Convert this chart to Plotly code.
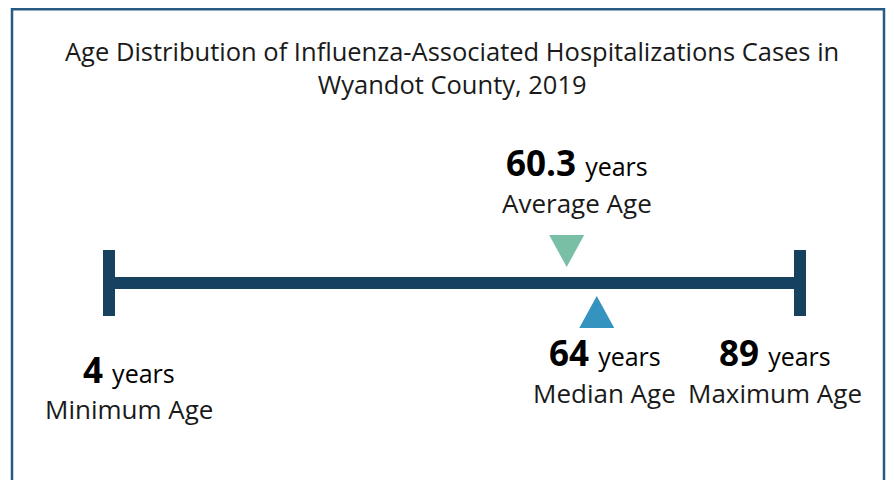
import plotly.graph_objects as go

# ---- data ----
title_text = "Age Distribution of Influenza-Associated Hospitalizations Cases in<br>Wyandot County, 2019"
stat_names = ["Minimum Age", "Average Age", "Median Age", "Maximum Age"]
stat_values = [4, 60.3, 64, 89]
unit = "years"

min_age, avg_age, med_age, max_age = stat_values

# ---- styles ----
PAGE_W, PAGE_H = 894, 480
OFF = 8  # page body margin: figure is drawn at (8, 8) in the page
W, H = PAGE_W - OFF, PAGE_H - OFF
FONT = "Open Sans"
NAVY = "#17425f"
GREEN = "#78bfa6"
BLUE = "#3494bf"
BORDER = "#285a82"
TXT = "#1a1a1a"

LINE_Y = 283
CAP_HALF = 33
TRI_HALF_W_PX = 17.5

# axis range so that min maps to ~109px and max to ~800px (page pixels)
px_per_unit = (800 - 109) / (max_age - min_age)
x0 = min_age - (109 - OFF) / px_per_unit
x1 = x0 + W / px_per_unit
tri_dx = TRI_HALF_W_PX / px_per_unit

fig = go.Figure()

# main line
fig.add_trace(go.Scatter(x=[min_age, max_age], y=[LINE_Y, LINE_Y], mode="lines",
                         line=dict(color=NAVY, width=12), hoverinfo="skip"))
# end caps
for v in (min_age, max_age):
    fig.add_trace(go.Scatter(x=[v, v], y=[LINE_Y - CAP_HALF, LINE_Y + CAP_HALF], mode="lines",
                             line=dict(color=NAVY, width=12), hoverinfo="skip"))

# average marker (above line, pointing down)
fig.add_trace(go.Scatter(x=[avg_age - tri_dx, avg_age + tri_dx, avg_age, avg_age - tri_dx],
                         y=[235, 235, 267, 235], mode="lines", fill="toself",
                         fillcolor=GREEN, line=dict(width=0, color=GREEN), hoverinfo="skip"))
# median marker (below line, pointing up)
fig.add_trace(go.Scatter(x=[med_age - tri_dx, med_age + tri_dx, med_age, med_age - tri_dx],
                         y=[328, 328, 296, 328], mode="lines", fill="toself",
                         fillcolor=BLUE, line=dict(width=0, color=BLUE), hoverinfo="skip"))

def fmt(v):
    return f"{v:g}"

ann = []
ann.append(dict(x=(452 - OFF) / W, xref="paper", y=67, yref="y", text=title_text, showarrow=False,
                font=dict(family=FONT, size=25.5, color=TXT), align="center",
                xanchor="center", yanchor="middle"))

label_spec = [
    # value, name, xshift, value-line y, name-line y
    (min_age, stat_names[0], 20, 369, 409),
    (avg_age, stat_names[1], 10, 162, 203),
    (med_age, stat_names[2], 8, 352, 393),
    (max_age, stat_names[3], -25, 352, 393),
]
for v, name, xs, yv, yn in label_spec:
    ann.append(dict(x=v, xref="x", y=yv, yref="y", xshift=xs, showarrow=False,
                    text=f"<b>{fmt(v)}</b> <span style='font-size:25px'>{unit}</span>",
                    font=dict(family=FONT, size=35, color="#000000"),
                    xanchor="center", yanchor="middle"))
    ann.append(dict(x=v, xref="x", y=yn, yref="y", xshift=xs, showarrow=False,
                    text=name, font=dict(family=FONT, size=26, color=TXT),
                    xanchor="center", yanchor="middle"))

fig.update_layout(
    width=W, height=H,
    margin=dict(l=0, r=0, t=0, b=0),
    paper_bgcolor="white", plot_bgcolor="white",
    showlegend=False,
    xaxis=dict(range=[x0, x1], visible=False, fixedrange=True),
    yaxis=dict(range=[H + OFF, OFF], visible=False, fixedrange=True),
    annotations=ann,
    shapes=[dict(type="rect", xref="paper", yref="y",
                 x0=(12 - OFF) / W, x1=(884 - OFF) / W, y0=700, y1=9.2,
                 line=dict(color=BORDER, width=2.5), fillcolor="rgba(0,0,0,0)")],
)

fig.write_html("out.html")
